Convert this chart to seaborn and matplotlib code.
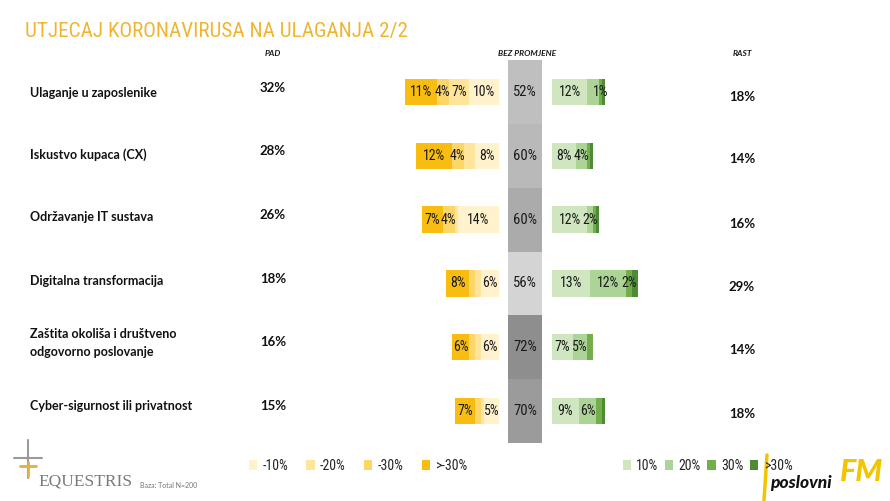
import matplotlib
matplotlib.use('Agg')
import numpy as np
import pandas as pd
import matplotlib.pyplot as plt
import seaborn as sns
from matplotlib import font_manager
from matplotlib.patches import Patch
from matplotlib.lines import Line2D

# Podaci
teme = ['Ulaganje u zaposlenike', 'Iskustvo kupaca (CX)', 'Održavanje IT sustava',
        'Digitalna transformacija', 'Zaštita okoliša i društveno\nodgovorno poslovanje',
        'Cyber-sigurnost ili privatnost']
pad = [32, 28, 26, 18, 16, 15]
bez_promjene = [52, 60, 60, 56, 72, 70]
rast = [18, 14, 16, 29, 14, 18]

# pad: -10%, -20%, -30%, >-30%
neg_10 = [10, 8, 14, 6, 6, 5]
neg_20 = [7, 4, 1, 2, 2, 1]
neg_30 = [4, 4, 4, 2, 2, 2]
neg_gt30 = [11, 12, 7, 8, 6, 7]
neg_show = [[1, 1, 1, 1], [1, 0, 1, 1], [1, 0, 1, 1], [1, 0, 0, 1], [1, 0, 0, 1], [1, 0, 0, 1]]

# rast: 10%, 20%, 30%, >30%
pos_10 = [12, 8, 12, 13, 7, 9]
pos_20 = [4, 4, 2, 12, 5, 6]
pos_30 = [1, 1, 1, 2, 2, 2]
pos_gt30 = [1, 1, 1, 2, 0, 1]
pos_show = [[1, 0, 1, 0], [1, 1, 0, 0], [1, 1, 0, 0], [1, 1, 1, 0], [1, 1, 0, 0], [1, 1, 0, 0]]

neg_legend = ['-10%', '-20%', '-30%', '>-30%']
pos_legend = ['10%', '20%', '30%', '>30%']

neg_colors = ['#fff2cc', '#ffe59c', '#fdd66a', '#f9bd12']
pos_colors = ['#cfe6c0', '#add497', '#72ae4a', '#4f8a35']
grays = ['#bfbfbf', '#b9b9b9', '#ababab', '#d4d4d4', '#8e8e8e', '#9b9b9b']

sns.set_theme(style='white')
names = {f.name for f in font_manager.fontManager.ttflist}
font = 'Lato' if 'Lato' in names else 'DejaVu Sans'
narrow = 'Roboto Condensed' if 'Roboto Condensed' in names else None
plt.rcParams['font.family'] = [font, 'DejaVu Sans']

W, H = 890, 501
fig = plt.figure(figsize=(W / 100, H / 100), dpi=100)
fig.patch.set_facecolor('white')


def fx(px):
    return px / W


def fy(py):
    return 1 - py / H


top, bot = 60, 443
ax_neg = fig.add_axes([fx(380), fy(bot), (499 - 380) / W, (bot - top) / H])
ax_mid = fig.add_axes([fx(508), fy(bot), 34 / W, (bot - top) / H])
ax_pos = fig.add_axes([fx(552), fy(bot), 120 / W, (bot - top) / H])

lab_font = narrow if narrow else font
lab_size = 10 if narrow else 9

# negativna strana - kumulativni slojevi, najduzi prvi
neg_levels = np.array([neg_10, neg_20, neg_30, neg_gt30])
neg_cum = np.cumsum(neg_levels, axis=0)
for k in reversed(range(4)):
    sns.barplot(x=-neg_cum[k], y=teme, order=teme, orient='h', color=neg_colors[k],
                width=0.41, saturation=1, linewidth=0, errorbar=None, ax=ax_neg)
for i in range(6):
    for k in range(4):
        if neg_show[i][k]:
            xc = -(neg_cum[k][i] - neg_levels[k][i] / 2)
            ax_neg.text(xc, i, f'{neg_levels[k][i]}%', ha='center', va='center',
                        fontsize=lab_size, family=lab_font, color='#1a1a1a')
ax_neg.set_xlim(-40.3, 0)

# pozitivna strana
pos_levels = np.array([pos_10, pos_20, pos_30, pos_gt30])
pos_cum = np.cumsum(pos_levels, axis=0)
for k in reversed(range(4)):
    sns.barplot(x=pos_cum[k], y=teme, order=teme, orient='h', color=pos_colors[k],
                width=0.41, saturation=1, linewidth=0, errorbar=None, ax=ax_pos)
for i in range(6):
    for k in range(4):
        if pos_show[i][k]:
            xc = pos_cum[k][i] - pos_levels[k][i] / 2
            ax_pos.text(xc, i, f'{pos_levels[k][i]}%', ha='center', va='center',
                        fontsize=lab_size, family=lab_font, color='#1a1a1a')
ax_pos.set_xlim(0, 40.7)

# srednji stupac - bez promjene
sns.barplot(x=[1] * 6, y=teme, hue=teme, order=teme, palette=grays, orient='h',
            width=1.0, saturation=1, linewidth=0, errorbar=None, legend=False, ax=ax_mid)
for i, v in enumerate(bez_promjene):
    ax_mid.text(0.5, i, f'{v}%', ha='center', va='center', fontsize=lab_size + 0.5,
                family=lab_font, color='#1a1a1a')
ax_mid.set_xlim(0, 1)

for ax in (ax_neg, ax_mid, ax_pos):
    ax.set_ylim(5.5, -0.5)
    ax.set_axis_off()

# naslov i zaglavlja
fig.text(fx(25), fy(31), 'UTJECAJ KORONAVIRUSA NA ULAGANJA 2/2', fontsize=15.2 if narrow else 13.5,
         family=lab_font, color='#f1b42f', ha='left', va='center')
for txt, x in [('PAD', 273), ('BEZ PROMJENE', 527), ('RAST', 742)]:
    fig.text(fx(x), fy(53), txt, fontsize=6, fontstyle='italic', fontweight='bold',
             ha='center', va='center', color='#1a1a1a')

label_y = [93, 155, 217, 281, 343, 406]
pad_y = [88, 151, 215, 279, 342, 406]
rast_y = [97, 159, 224, 287, 350, 414]
for i in range(6):
    fig.text(fx(30), fy(label_y[i]), teme[i], fontsize=9, fontweight='bold',
             ha='left', va='center', color='#111111', linespacing=1.5)
    fig.text(fx(273), fy(pad_y[i]), f'{pad[i]}%', fontsize=9.5, fontweight='bold',
             ha='center', va='center', color='#111111')
    fig.text(fx(742), fy(rast_y[i]), f'{rast[i]}%', fontsize=9.5, fontweight='bold',
             ha='center', va='center', color='#111111')

# legende
neg_handles = [Patch(facecolor=c, edgecolor='none', label=l) for c, l in zip(neg_colors, neg_legend)]
pos_handles = [Patch(facecolor=c, edgecolor='none', label=l) for c, l in zip(pos_colors, pos_legend)]
leg_font = {'family': lab_font, 'size': 10 if narrow else 8.5}
fig.legend(handles=neg_handles, loc='center left', bbox_to_anchor=(fx(236), fy(466)), ncol=4,
           frameon=False, handlelength=0.6, handleheight=0.8, handletextpad=0.4,
           columnspacing=1.3, prop=leg_font)
fig.legend(handles=pos_handles, loc='center left', bbox_to_anchor=(fx(610), fy(466)), ncol=4,
           frameon=False, handlelength=0.6, handleheight=0.8, handletextpad=0.4,
           columnspacing=0.45, prop=leg_font)

# logotipovi (priblizno)
fig.text(fx(38), fy(482), 'EQUESTRIS', fontsize=12.5, family='Liberation Serif',
         color='#7a7a7a', ha='left', va='center')
fig.text(fx(140), fy(486), 'Baza: Total N=200', fontsize=5, color='#777777', ha='left', va='center')
fig.add_artist(Line2D([fx(28), fx(28)], [fy(440), fy(478)], color='#9a9a9a', lw=1.5))
fig.add_artist(Line2D([fx(14), fx(42)], [fy(458), fy(458)], color='#9a9a9a', lw=1.5))
fig.add_artist(Line2D([fx(20), fx(36)], [fy(466), fy(466)], color='#e0b040', lw=2))
fig.add_artist(Line2D([fx(28), fx(28)], [fy(462), fy(476)], color='#e0b040', lw=2))

fig.add_artist(Line2D([fx(767), fx(764)], [fy(455), fy(500)], color='#f5c400', lw=2.5))
fig.text(fx(770), fy(483), 'poslovni', fontsize=12.5, fontweight='black', fontstyle='italic',
         color='#111111', ha='left', va='center')
fig.text(fx(840), fy(472), 'FM', fontsize=22, fontweight='black', fontstyle='italic',
         color='#f5c400', ha='left', va='center')

fig.savefig('out.png', dpi=100, facecolor='white')
